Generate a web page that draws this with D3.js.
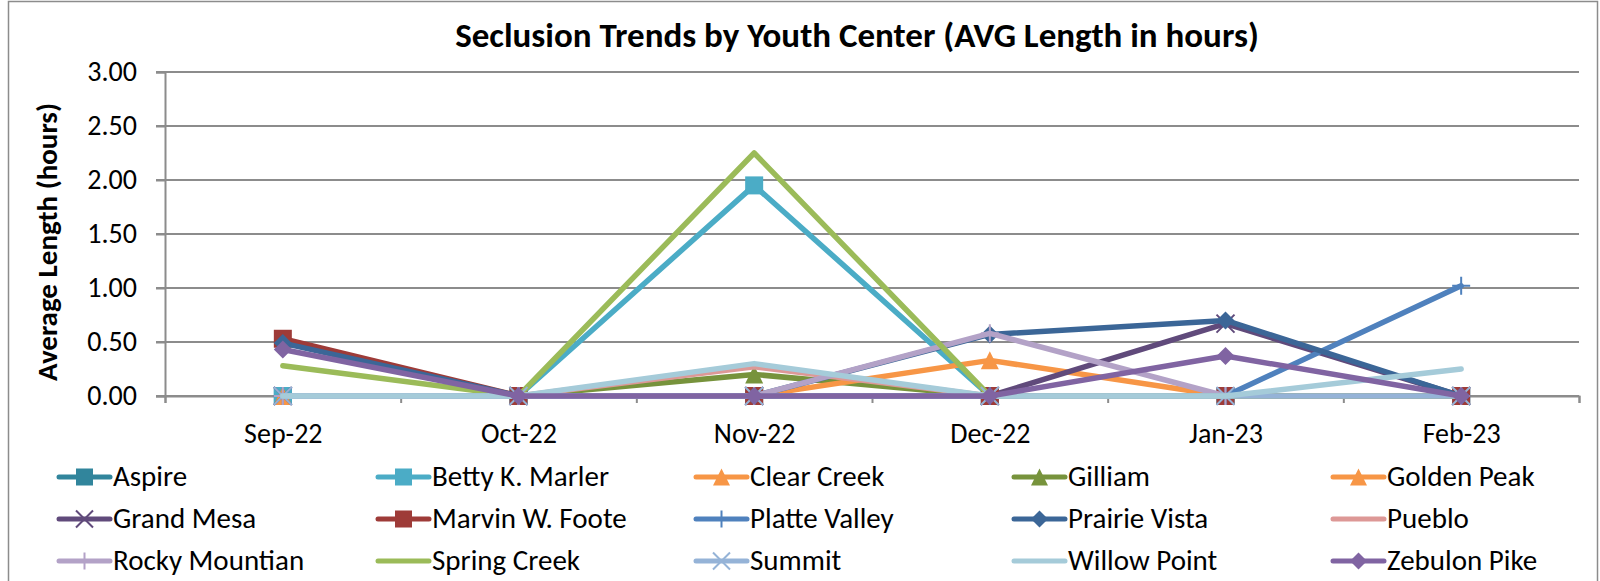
<html>
<head>
<script src="https://d3js.org/d3.v7.min.js"></script>
<style>
  body { margin: 0; background: #fff; }
  text { font-family: Carlito, Lato, sans-serif; fill: #000; }
</style>
</head>
<body>
<svg id="chart" width="1600" height="581"></svg>
<script>
// months along the bottom
var months = ["Sep-22", "Oct-22", "Nov-22", "Dec-22", "Jan-23", "Feb-23"];
var yTicks = [0, 0.5, 1, 1.5, 2, 2.5, 3];

// one array per youth center (avg length in hours)
var aspire        = [0, 0, 0, 0, 0, 0];
var bettyKMarler  = [0, 0, 1.95, 0, 0, 0];
var clearCreek    = [0, 0, 0, 0, 0, 0];
var gilliam       = [0, 0, 0.20, 0, 0, 0];
var goldenPeak    = [0, 0, 0, 0.33, 0, 0];
var grandMesa     = [0, 0, 0, 0, 0.67, 0];
var marvinWFoote  = [0.53, 0, 0, 0, 0, 0];
var platteValley  = [0, 0, 0, 0, 0, 1.02];
var prairieVista  = [0.49, 0, 0, 0.57, 0.70, 0];
var pueblo        = [0, 0, 0.27, 0, 0, 0];
var rockyMountian = [0, 0, 0, 0.58, 0, 0];
var springCreek   = [0.28, 0, 2.25, 0, 0, 0];
var summit        = [0, 0, 0, 0, 0, 0];
var willowPoint   = [0, 0, 0.30, 0, 0, 0.25];
var zebulonPike   = [0.43, 0, 0, 0, 0.37, 0];

var names = ["Aspire", "Betty K. Marler", "Clear Creek", "Gilliam", "Golden Peak",
  "Grand Mesa", "Marvin W. Foote", "Platte Valley", "Prairie Vista", "Pueblo",
  "Rocky Mountian", "Spring Creek", "Summit", "Willow Point", "Zebulon Pike"];
var values = [aspire, bettyKMarler, clearCreek, gilliam, goldenPeak, grandMesa,
  marvinWFoote, platteValley, prairieVista, pueblo, rockyMountian, springCreek,
  summit, willowPoint, zebulonPike];
var colors = ["#31859c", "#4bacc6", "#f79646", "#77933c", "#f79646", "#604a7b",
  "#9e3b38", "#4f81bd", "#3b6697", "#dd9896", "#b3a2c7", "#9bbb59", "#95b3d7",
  "#a5cbd9", "#8064a2"];
var markers = ["square", "square", "triangle", "triangle", "triangle", "x",
  "square", "plus", "diamond", "none", "plus", "none", "x", "none", "diamond"];

var series = names.map(function(n, i) {
  return { name: n, values: values[i], color: colors[i], marker: markers[i] };
});

var svg = d3.select("#chart");

// frame
svg.append("rect")
  .attr("x", 8.5).attr("y", 1.5)
  .attr("width", 1589).attr("height", 620)
  .attr("fill", "white")
  .attr("stroke", "#8c8c8c").attr("stroke-width", 1.5);

// plot area
var plotLeft = 165, plotRight = 1579, plotTop = 72, plotBottom = 396;

var x = d3.scalePoint().domain(months).range([plotLeft, plotRight]).padding(0.5);
var xEdge = d3.scaleLinear().domain([0, months.length]).range([plotLeft, plotRight]);
var y = d3.scaleLinear().domain([0, 3]).range([plotBottom, plotTop]);

// title
svg.append("text")
  .attr("x", 857).attr("y", 47)
  .attr("text-anchor", "middle")
  .style("font-weight", "bold")
  .style("font-size", "35px")
  .text("Seclusion Trends by Youth Center (AVG Length in hours)");

// gridlines
svg.append("g")
  .selectAll("line")
  .data(yTicks)
  .enter()
  .append("line")
    .attr("x1", plotLeft - 9).attr("x2", plotRight)
    .attr("y1", function(d) { return y(d); })
    .attr("y2", function(d) { return y(d); })
    .attr("stroke", "#8c8c8c")
    .attr("stroke-width", 2);

// y axis
var yAxis = svg.append("g")
  .attr("transform", "translate(" + plotLeft + ",0)")
  .call(d3.axisLeft(y).tickValues(yTicks).tickSize(9).tickPadding(19)
    .tickFormat(d3.format(".2f")));
yAxis.selectAll("line").attr("stroke", "#8c8c8c").attr("stroke-width", 2);
yAxis.select(".domain").attr("stroke", "#8c8c8c").attr("stroke-width", 2);
yAxis.selectAll("text").style("font-size", "28px").attr("fill", "#000");

svg.append("text")
  .attr("transform", "translate(57,242) rotate(-90)")
  .attr("text-anchor", "middle")
  .style("font-weight", "bold")
  .style("font-size", "29px")
  .text("Average Length (hours)");

// x axis ticks at category edges
var xAxis = svg.append("g")
  .attr("transform", "translate(0," + plotBottom + ")")
  .call(d3.axisBottom(xEdge).tickValues(d3.range(months.length + 1)).tickSize(7).tickFormat(""));
xAxis.selectAll("line").attr("stroke", "#8c8c8c").attr("stroke-width", 2);
xAxis.select(".domain").attr("stroke", "#8c8c8c").attr("stroke-width", 2);

var xLabels = svg.append("g")
  .attr("transform", "translate(0," + plotBottom + ")")
  .call(d3.axisBottom(x).tickSize(0).tickPadding(27));
xLabels.select(".domain").remove();
xLabels.selectAll("text").style("font-size", "28px").attr("fill", "#000");

// marker drawing
function drawMarker(g, type, color, cx, cy, s) {
  if (type === "square") {
    g.append("rect")
      .attr("x", cx - s / 2).attr("y", cy - s / 2)
      .attr("width", s).attr("height", s)
      .attr("fill", color);
  } else if (type === "triangle") {
    g.append("path")
      .attr("d", "M" + cx + "," + (cy - s / 2) + "L" + (cx + s / 2) + "," + (cy + s / 2) +
        "L" + (cx - s / 2) + "," + (cy + s / 2) + "Z")
      .attr("fill", color);
  } else if (type === "diamond") {
    g.append("path")
      .attr("d", "M" + cx + "," + (cy - s / 2) + "L" + (cx + s / 2) + "," + cy +
        "L" + cx + "," + (cy + s / 2) + "L" + (cx - s / 2) + "," + cy + "Z")
      .attr("fill", color);
  } else if (type === "x") {
    var h = s / 2;
    g.append("path")
      .attr("d", "M" + (cx - h) + "," + (cy - h) + "L" + (cx + h) + "," + (cy + h) +
        "M" + (cx - h) + "," + (cy + h) + "L" + (cx + h) + "," + (cy - h))
      .attr("stroke", color).attr("stroke-width", 2).attr("fill", "none");
  } else if (type === "plus") {
    var p = s / 2;
    g.append("path")
      .attr("d", "M" + (cx - p) + "," + cy + "L" + (cx + p) + "," + cy +
        "M" + cx + "," + (cy - p) + "L" + cx + "," + (cy + p))
      .attr("stroke", color).attr("stroke-width", 2).attr("fill", "none");
  }
}

// lines + markers
var line = d3.line()
  .x(function(d, i) { return x(months[i]); })
  .y(function(d) { return y(d); });

series.forEach(function(s) {
  var g = svg.append("g");
  g.append("path")
    .attr("d", line(s.values))
    .attr("fill", "none")
    .attr("stroke", s.color)
    .attr("stroke-width", 5.5)
    .attr("stroke-linejoin", "round")
    .attr("stroke-linecap", "round");
  s.values.forEach(function(v, i) {
    drawMarker(g, s.marker, s.color, x(months[i]), y(v), 18);
  });
});

// legend
var legendX = [113, 432, 750, 1068, 1387];
var legendY = [477, 519, 561];
var legend = svg.append("g")
  .selectAll("g")
  .data(series)
  .enter()
  .append("g")
    .attr("transform", function(d, i) {
      return "translate(" + legendX[i % 5] + "," + legendY[Math.floor(i / 5)] + ")";
    });
legend.append("line")
  .attr("x1", -54).attr("x2", -3)
  .attr("stroke", function(d) { return d.color; })
  .attr("stroke-width", 5)
  .attr("stroke-linecap", "round");
legend.each(function(d) {
  drawMarker(d3.select(this), d.marker, d.color, -28.5, 0, 17);
});
legend.append("text")
  .attr("x", 0).attr("y", 9)
  .style("font-size", "29px")
  .text(function(d) { return d.name; });
</script>
</body>
</html>
